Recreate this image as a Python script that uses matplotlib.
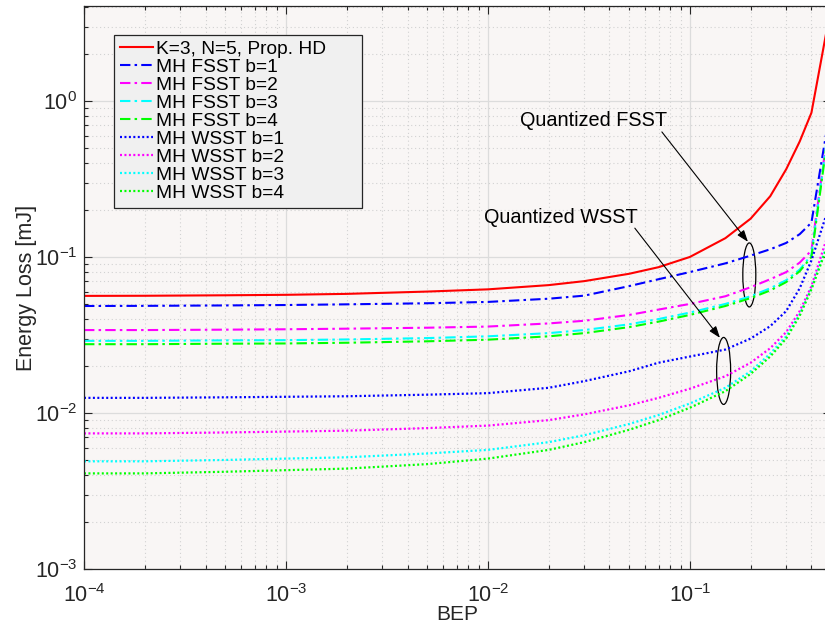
import numpy as np
import matplotlib
matplotlib.use("Agg")
import matplotlib.pyplot as plt
from matplotlib.patches import Ellipse
from matplotlib.ticker import LogLocator, FuncFormatter, NullFormatter

plt.rcParams['font.family'] = ['Liberation Sans', 'DejaVu Sans']
plt.rcParams['mathtext.fontset'] = 'custom'
plt.rcParams['mathtext.rm'] = 'Liberation Sans'
plt.rcParams['mathtext.it'] = 'Liberation Sans:italic'
plt.rcParams['mathtext.bf'] = 'Liberation Sans:bold'

# ---------------- data ----------------
bep = [1e-4, 2e-4, 5e-4, 1e-3, 2e-3, 5e-3, 1e-2, 2e-2, 3e-2, 5e-2, 7e-2,
       0.1, 0.15, 0.2, 0.25, 0.3, 0.35, 0.4, 0.5]

prop_hd = [0.0563, 0.0564, 0.0568, 0.0572, 0.058, 0.060, 0.062, 0.066, 0.070,
           0.078, 0.086, 0.100, 0.132, 0.176, 0.245, 0.365, 0.55, 0.84, 4.0]

fsst_b1 = [0.0485, 0.0486, 0.0489, 0.0492, 0.0497, 0.0505, 0.0515, 0.0540, 0.0565,
           0.065, 0.072, 0.080, 0.091, 0.102, 0.112, 0.123, 0.140, 0.166, 0.95]
fsst_b2 = [0.0340, 0.0340, 0.0342, 0.0344, 0.0347, 0.0352, 0.0358, 0.0375, 0.039,
           0.0425, 0.046, 0.050, 0.056, 0.064, 0.072, 0.080, 0.092, 0.110, 0.90]
fsst_b3 = [0.0290, 0.0290, 0.0292, 0.0293, 0.0296, 0.0302, 0.0310, 0.0325, 0.034,
           0.037, 0.040, 0.044, 0.050, 0.056, 0.063, 0.071, 0.083, 0.103, 0.90]
fsst_b4 = [0.0276, 0.0276, 0.0278, 0.0279, 0.0282, 0.0288, 0.0295, 0.0310, 0.0325,
           0.0355, 0.0385, 0.0425, 0.0485, 0.0545, 0.061, 0.069, 0.081, 0.100, 0.85]

wsst_b1 = [0.0125, 0.0125, 0.0126, 0.0127, 0.0128, 0.0131, 0.0134, 0.0145, 0.0160,
           0.0185, 0.021, 0.023, 0.0255, 0.030, 0.036, 0.045, 0.063, 0.095, 0.23]
wsst_b2 = [0.0074, 0.0074, 0.0075, 0.0076, 0.0077, 0.0080, 0.0083, 0.0090, 0.0098,
           0.0112, 0.0125, 0.0143, 0.0172, 0.0210, 0.026, 0.033, 0.045, 0.065, 0.16]
wsst_b3 = [0.0049, 0.0049, 0.0050, 0.0051, 0.0052, 0.0055, 0.0058, 0.0065, 0.0072,
           0.0085, 0.0097, 0.0115, 0.0145, 0.0185, 0.024, 0.031, 0.043, 0.063, 0.14]
wsst_b4 = [0.0041, 0.0041, 0.0042, 0.0043, 0.0044, 0.0047, 0.0051, 0.0058, 0.0065,
           0.0078, 0.0090, 0.0108, 0.0138, 0.0178, 0.023, 0.030, 0.042, 0.062, 0.135]

labels = ["K=3, N=5, Prop. HD",
          "MH FSST b=1", "MH FSST b=2", "MH FSST b=3", "MH FSST b=4",
          "MH WSST b=1", "MH WSST b=2", "MH WSST b=3", "MH WSST b=4"]
series = [prop_hd, fsst_b1, fsst_b2, fsst_b3, fsst_b4,
          wsst_b1, wsst_b2, wsst_b3, wsst_b4]
colors = ['#ff0000', '#0000ff', '#ff00ff', '#00ffff', '#00ff00',
          '#0000ff', '#ff00ff', '#00ffff', '#00ff00']
styles = ['solid', 'dashdot', 'dashdot', 'dashdot', 'dashdot',
          'dotted', 'dotted', 'dotted', 'dotted']

# ---------------- figure ----------------
W, H = 825, 630
fig = plt.figure(figsize=(W / 100, H / 100), dpi=100)
fig.patch.set_facecolor('white')
ax = fig.add_axes([84 / W, (H - 569) / H, (831 - 84) / W, (569 - 6) / H])
ax.set_facecolor('#f9f6f5')

for ys, c, st, lab in zip(series, colors, styles, labels):
    if st == 'solid':
        ax.plot(bep, ys, color=c, lw=1.5, label=lab)
    elif st == 'dashdot':
        ax.plot(bep, ys, color=c, lw=1.5, dashes=(5, 2, 1.2, 2), label=lab)
    else:
        ax.plot(bep, ys, color=c, lw=1.6, dashes=(0.9, 1.1), label=lab)

ax.set_xscale('log')
ax.set_yscale('log')
ax.set_xlim(1e-4, 0.5)
ax.set_ylim(1e-3, 4.06)

ax.xaxis.set_major_locator(LogLocator(base=10, numticks=20))
ax.yaxis.set_major_locator(LogLocator(base=10, numticks=20))
ax.xaxis.set_minor_locator(LogLocator(base=10, subs=np.arange(2, 10), numticks=20))
ax.yaxis.set_minor_locator(LogLocator(base=10, subs=np.arange(2, 10), numticks=20))
fmt = FuncFormatter(lambda v, p: r'$\mathregular{10^{%d}}$' % int(round(np.log10(v))))
ax.xaxis.set_major_formatter(fmt)
ax.yaxis.set_major_formatter(fmt)
ax.xaxis.set_minor_formatter(NullFormatter())
ax.yaxis.set_minor_formatter(NullFormatter())

ax.grid(True, which='major', color='#dcdcdc', lw=0.9, ls='-')
ax.grid(True, which='minor', color='#d2d2d2', lw=0.8, ls=(0, (1, 2.5)))
ax.set_axisbelow(True)

ax.tick_params(which='both', direction='in', top=True, right=True, colors='#262626',
               labelsize=15.5)
ax.tick_params(axis='y', pad=5)
ax.tick_params(axis='x', pad=11)
ax.tick_params(which='major', length=5.5, width=0.8)
ax.tick_params(which='minor', length=3, width=0.8)
for s in ax.spines.values():
    s.set_color('#262626')
    s.set_linewidth(0.9)

ax.set_xlabel('BEP', fontsize=15, color='#262626', labelpad=-1.5)
ax.set_ylabel('Energy Loss [mJ]', fontsize=15.5, color='#262626', labelpad=-2)

leg_w = (362 - 114) / 747
leg = ax.legend(loc='upper left', bbox_to_anchor=(30 / 747, 1 - 29 / 563, leg_w, 0),
                mode='expand', borderaxespad=0, fontsize=13.8, labelspacing=0.03,
                handlelength=1.75, handletextpad=0.15, borderpad=0.3,
                fancybox=False, framealpha=1, facecolor='#f0f0f0',
                edgecolor='#262626')
leg.get_frame().set_linewidth(0.9)

# ---------------- annotations ----------------
arrow = dict(arrowstyle='-|>,head_length=0.7,head_width=0.25',
             color='black', lw=0.8, shrinkA=0, shrinkB=0)
ax.text(0.0335, 0.744, 'Quantized FSST', fontsize=14.3, ha='center', va='center',
        color='black')
ax.annotate('', xy=(0.194, 0.125), xytext=(0.0727, 0.633), arrowprops=arrow)
ax.text(0.023, 0.178, 'Quantized WSST', fontsize=14.3, ha='center', va='center',
        color='black')
ax.annotate('', xy=(0.141, 0.0303), xytext=(0.0534, 0.153), arrowprops=arrow)

def data_to_axes(x, y):
    return ax.transAxes.inverted().transform(ax.transData.transform((x, y)))

for (cx, cy), (w, h) in [((0.197, 0.0767), (13 / 747, 64 / 563)),
                         ((0.147, 0.0186), (14 / 747, 67 / 563))]:
    c = data_to_axes(cx, cy)
    ax.add_patch(Ellipse(c, w, h, transform=ax.transAxes, fill=False,
                         edgecolor='black', lw=0.9))

fig.savefig('out.png', dpi=100)
